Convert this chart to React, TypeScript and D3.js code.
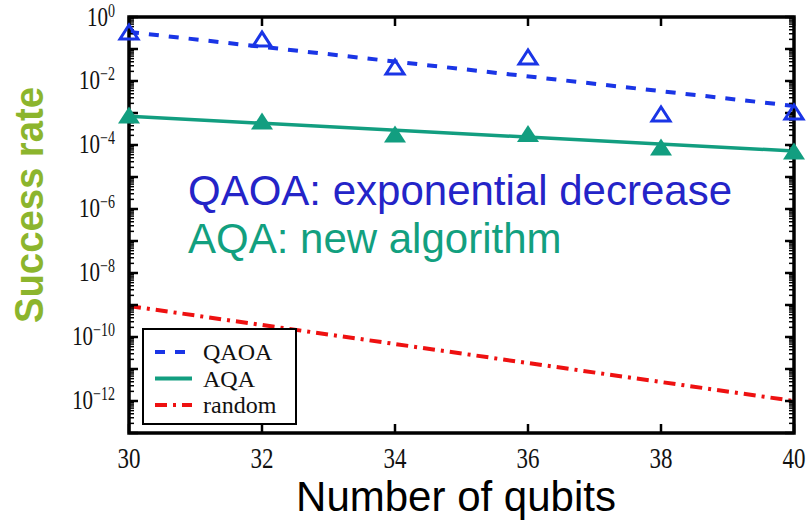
import * as d3 from "d3";

// qubit counts and measured success rates
const qubits = [30, 32, 34, 36, 38, 40];
const qaoaRate = [0.339, 0.204, 0.0275, 0.0562, 9.3e-4, 1.07e-3];
const aqaRate = [8.7e-4, 5.6e-4, 2.2e-4, 2.3e-4, 8.7e-5, 6.5e-5];

// fitted trend lines (end points)
const fitX = [30, 40];
const qaoaFit = [0.34, 1.66e-3];
const aqaFit = [7.9e-4, 6.5e-5];
const randomFit = [9.3e-10, 1.0e-12];

const xTicks = [30, 32, 34, 36, 38, 40];
const yLabelExps = [0, -2, -4, -6, -8, -10, -12];
const yDecades = d3.range(-13, 1);

const legendItems = [
  { label: "QAOA", color: "#1a35e6", dash: "10,10" },
  { label: "AQA", color: "#129e80", dash: "none" },
  { label: "random", color: "#ee1111", dash: "12,6,3,6" },
];

const W = 807, H = 520;
const m = { l: 129, r: 794, t: 17, b: 433 };

export default function App() {
  const x = d3.scaleLinear().domain([30, 40]).range([m.l, m.r]);
  const y = d3.scaleLog().domain([1e-13, 1]).range([m.b, m.t]);

  const fitLine = (vals: number[]) =>
    d3.line<number>().x((_, i) => x(fitX[i])).y((v) => y(v))(vals) || "";

  const tri = (cx: number, cy: number, w: number, h: number) =>
    `M${cx - w / 2},${cy + h / 2}L${cx},${cy - h / 2}L${cx + w / 2},${cy + h / 2}Z`;

  // minor ticks 2..9 in each decade
  const minor: number[] = [];
  yDecades.forEach((e) => {
    for (let k = 2; k <= 9; k++) {
      const v = k * Math.pow(10, e);
      if (v <= 1) minor.push(v);
    }
  });

  const serif = "'Liberation Serif', 'Times New Roman', serif";
  const sans = "'Liberation Sans', Arial, sans-serif";

  return (
    <svg width={W} height={H} style={{ position: "absolute", left: 0, top: 0, background: "white" }}>
      {/* fitted lines */}
      <path d={fitLine(randomFit)} fill="none" stroke="#ee1111" strokeWidth={4} strokeDasharray="12,6,3,6" />
      <path d={fitLine(aqaFit)} fill="none" stroke="#129e80" strokeWidth={3.5} />
      <path d={fitLine(qaoaFit)} fill="none" stroke="#1a35e6" strokeWidth={4} strokeDasharray="10,10" />

      {/* legend */}
      <rect x={143} y={329} width={153} height={95} fill="white" stroke="black" strokeWidth={2} />
      {legendItems.map((it, i) => (
        <g key={it.label}>
          <line x1={155} x2={192} y1={352 + i * 26.5} y2={352 + i * 26.5} stroke={it.color} strokeWidth={4}
            strokeDasharray={it.dash} />
          <text x={203} y={360 + i * 26.5} fontFamily={serif} fontSize={24} fill="#111">{it.label}</text>
        </g>
      ))}

      {/* axes frame */}
      <rect x={m.l} y={m.t} width={m.r - m.l} height={m.b - m.t} fill="none" stroke="black" strokeWidth={3.5} />

      {/* y ticks */}
      {yDecades.map((e) => (
        <g key={"d" + e}>
          <line x1={m.l} x2={m.l + 9} y1={y(Math.pow(10, e))} y2={y(Math.pow(10, e))} stroke="black" strokeWidth={2.5} />
          <line x1={m.r} x2={m.r - 9} y1={y(Math.pow(10, e))} y2={y(Math.pow(10, e))} stroke="black" strokeWidth={2.5} />
        </g>
      ))}
      {minor.map((v, i) => (
        <g key={"m" + i}>
          <line x1={m.l} x2={m.l + 5} y1={y(v)} y2={y(v)} stroke="black" strokeWidth={1.5} />
          <line x1={m.r} x2={m.r - 5} y1={y(v)} y2={y(v)} stroke="black" strokeWidth={1.5} />
        </g>
      ))}
      {yLabelExps.map((e) => (
        <text key={"yl" + e} transform={`translate(115,${y(Math.pow(10, e)) + (e === 0 ? 9 : 8)}) scale(1,1.3)`}
          textAnchor="end" fontFamily={serif} fontSize={21} fill="#111">
          <tspan>10</tspan>
          <tspan dy={-7} fontSize={14}>{e === 0 ? "0" : "\u2212" + Math.abs(e)}</tspan>
        </text>
      ))}

      {/* x ticks */}
      {xTicks.map((t) => (
        <g key={"x" + t}>
          <line x1={x(t)} x2={x(t)} y1={m.b} y2={m.b - 9} stroke="black" strokeWidth={2.5} />
          <line x1={x(t)} x2={x(t)} y1={m.t} y2={m.t + 9} stroke="black" strokeWidth={2.5} />
          <text transform={`translate(${x(t)},468) scale(1,1.3)`} textAnchor="middle" fontFamily={serif} fontSize={23}
            fill="#111">{t}</text>
        </g>
      ))}

      {/* markers */}
      {qubits.map((q, i) => (
        <path key={"a" + q} d={tri(x(q), y(aqaRate[i]), 22, 17)} fill="#129e80" />
      ))}
      {qubits.map((q, i) => (
        <path key={"q" + q} d={tri(x(q), y(qaoaRate[i]), 18, 14)} fill="none" stroke="#1a35e6" strokeWidth={3} />
      ))}

      {/* annotations */}
      <text x={188} y={205} fontFamily={sans} fontSize={42} fill="#2424c8">QAOA: exponential decrease</text>
      <text x={188} y={253} fontFamily={sans} fontSize={42} fill="#12a07f">AQA: new algorithm</text>

      {/* axis titles */}
      <text x={456} y={511} textAnchor="middle" fontFamily={sans} fontSize={42} fill="black">Number of qubits</text>
      <text transform="translate(43,205) rotate(-90)" textAnchor="middle" fontFamily={sans} fontSize={40}
        fontWeight="bold" fill="#8cb52d" textLength={236} lengthAdjust="spacingAndGlyphs">Success rate</text>
    </svg>
  );
}
